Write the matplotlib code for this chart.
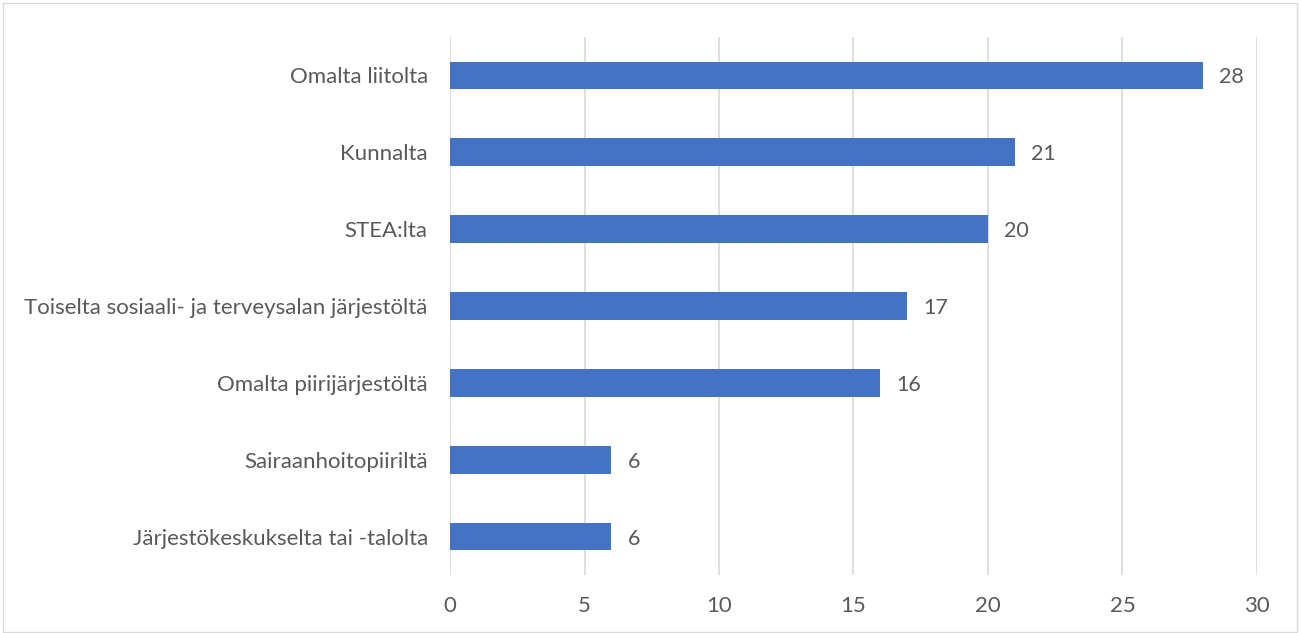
import matplotlib.pyplot as plt
from matplotlib.patches import Rectangle

categories = [
    "Omalta liitolta",
    "Kunnalta",
    "STEA:lta",
    "Toiselta sosiaali- ja terveysalan järjestöltä",
    "Omalta piirijärjestöltä",
    "Sairaanhoitopiiriltä",
    "Järjestökeskukselta tai -talolta",
]
values = [28, 21, 20, 17, 16, 6, 6]
xticks = [0, 5, 10, 15, 20, 25, 30]

plt.rcParams['font.family'] = ['Lato', 'DejaVu Sans']
txt = '#595959'

fig = plt.figure(figsize=(13.01, 6.33), dpi=100)
ax = fig.add_axes([450 / 1301, 1 - 575 / 633, 807 / 1301, 538 / 633])

pos = list(range(len(categories)))[::-1]
ax.barh(pos, values, height=0.36, color='#4472C4', zorder=3)
for p, v in zip(pos, values):
    ax.text(v + 0.6, p, str(v), va='center_baseline', ha='left', fontsize=15.5, color=txt)

ax.set_xlim(0, 30)
ax.set_ylim(-0.5, 6.5)
ax.set_xticks(xticks)
ax.set_yticks(pos)
ax.set_yticklabels(categories, va='center_baseline')
ax.tick_params(axis='both', length=0, labelsize=16, colors=txt)
ax.tick_params(axis='x', pad=15)
ax.tick_params(axis='y', pad=16)
ax.grid(axis='x', color='#D9D9D9', linewidth=1.2, zorder=0)
for s in ['top', 'right', 'bottom', 'left']:
    ax.spines[s].set_visible(False)

fig.patches.append(Rectangle((0.002, 0.002), 0.995, 0.994, transform=fig.transFigure,
                             fill=False, edgecolor='#D9D9D9', linewidth=1))

fig.savefig('out.png', dpi=100)
